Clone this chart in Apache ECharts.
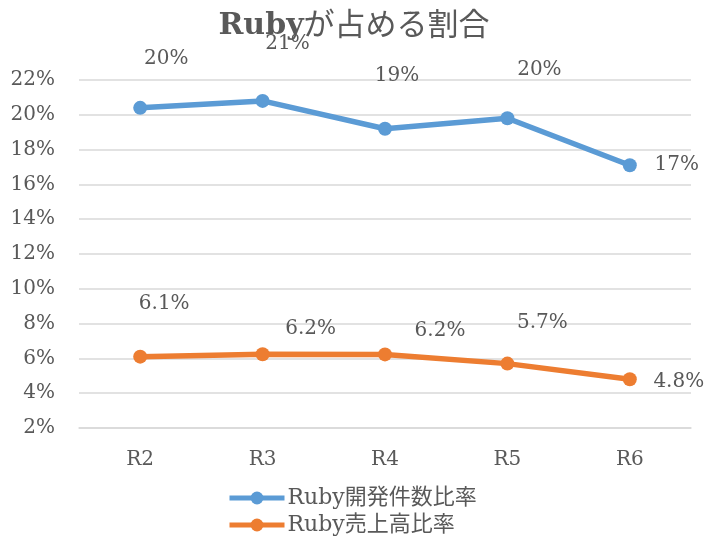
<!DOCTYPE html>
<html><head><meta charset="utf-8">
<script src="https://cdn.jsdelivr.net/npm/echarts@6/dist/echarts.min.js"></script>
<style>html,body{margin:0;padding:0;background:#fff}#c{width:708px;height:538px}</style>
</head><body><div id="c"></div>
<script>
const categories = ['R2','R3','R4','R5','R6'];
const devRatio = [20.4, 20.8, 19.2, 19.8, 17.1];
const salesRatio = [6.1, 6.24, 6.23, 5.7, 4.8];
const yTicks = {min: 2, max: 22, interval: 2};
const seriesNames = ['Ruby開発件数比率', 'Ruby売上高比率'];
const titleLatin = 'Ruby';
const titleCJK = 'が占める割合';

// label offsets (style only)
const devOffsets = [[26,-49],[25,-57],[12,-53],[32,-48],[47,0]];
const salesOffsets = [[24,-53],[48,-25],[55,-24],[35,-41],[49,3]];

const FONT = '"DejaVu Serif", "Noto Sans CJK JP", serif';
const TXT = '#595959';

function build(vals, offs) {
  return vals.map((v, i) => ({value: v, label: {offset: offs[i]}}));
}

const chart = echarts.init(document.getElementById('c'), null, {renderer: 'canvas'});
chart.setOption({
  animation: false,
  backgroundColor: '#fff',
  title: {
    text: '{a|' + titleLatin + '}{b|' + titleCJK + '}', left: 'center', top: 6,
    textStyle: {
      rich: {
        a: {fontFamily: FONT, fontSize: 30, fontWeight: 'bold', color: TXT},
        b: {fontFamily: FONT, fontSize: 31, fontWeight: 'normal', color: TXT}
      }
    }
  },
  grid: {left: 79, right: 17, top: 80, bottom: 110, containLabel: false},
  xAxis: {
    type: 'category', data: categories, boundaryGap: true,
    axisLine: {show: true, lineStyle: {color: '#D9D9D9', width: 1.5}},
    axisTick: {show: false},
    axisLabel: {fontFamily: FONT, fontSize: 20, color: TXT, margin: 22}
  },
  yAxis: {
    type: 'value', min: yTicks.min, max: yTicks.max, interval: yTicks.interval,
    axisLine: {show: false}, axisTick: {show: false},
    splitLine: {lineStyle: {color: '#D9D9D9', width: 1.5}},
    axisLabel: {fontFamily: FONT, fontSize: 20, color: TXT, margin: 24, formatter: v => v + '%'}
  },
  legend: {
    orient: 'vertical', left: 222, top: 481, height: 60, itemGap: 3,
    itemWidth: 55, itemHeight: 16,
    lineStyle: {width: 5},
    textStyle: {fontFamily: FONT, fontSize: 22, lineHeight: 24, color: TXT, padding: [0,0,0,-2]},
    data: seriesNames
  },
  series: [
    {
      name: seriesNames[0], type: 'line', data: build(devRatio, devOffsets),
      symbol: 'circle', symbolSize: 14,
      lineStyle: {color: '#5B9BD5', width: 5.5},
      itemStyle: {color: '#5B9BD5'},
      label: {show: true, position: 'inside', fontFamily: FONT, fontSize: 20, color: TXT,
        formatter: p => Math.round(p.value) + '%'}
    },
    {
      name: seriesNames[1], type: 'line', data: build(salesRatio, salesOffsets),
      symbol: 'circle', symbolSize: 14,
      lineStyle: {color: '#ED7D31', width: 5.5},
      itemStyle: {color: '#ED7D31'},
      label: {show: true, position: 'inside', fontFamily: FONT, fontSize: 20, color: TXT,
        formatter: p => p.value.toFixed(1) + '%'}
    }
  ]
});
</script></body></html>
